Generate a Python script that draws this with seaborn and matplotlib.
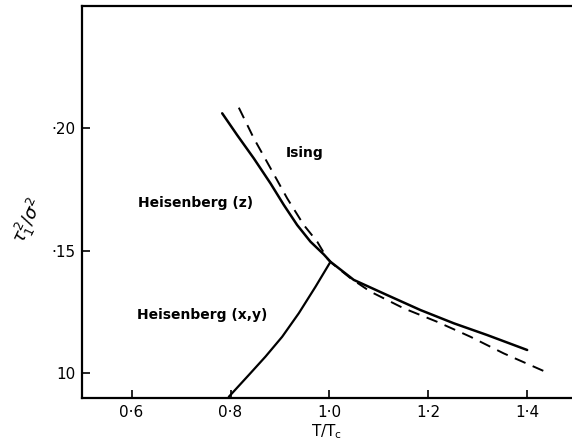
import matplotlib
matplotlib.use("Agg")
import matplotlib.pyplot as plt
import seaborn as sns
import pandas as pd

# Data
hz_x = [0.7832, 0.8135, 0.8471, 0.8808, 0.9077, 0.9347, 0.9616, 0.9885, 1.002,
        1.0491, 1.1166, 1.1838, 1.2511, 1.3186, 1.3994]
hz_y = [0.2060, 0.1971, 0.1876, 0.1774, 0.1686, 0.1604, 0.1536, 0.1484, 0.1454,
        0.1380, 0.1318, 0.1257, 0.1203, 0.1155, 0.1094]

ising_x = [0.8168, 0.8471, 0.8808, 0.9145, 0.9481, 0.9752, 0.9954, 1.002,
           1.0424, 1.0828, 1.1501, 1.2176, 1.2848, 1.3521, 1.4364]
ising_y = [0.2083, 0.1958, 0.1836, 0.1713, 0.1604, 0.1536, 0.1468, 0.1453,
           0.1387, 0.1332, 0.1264, 0.1209, 0.1148, 0.1080, 0.1005]

hxy_x = [1.002, 0.9717, 0.938, 0.9044, 0.8707, 0.837, 0.7966]
hxy_y = [0.1454, 0.1352, 0.1244, 0.1148, 0.1067, 0.0992, 0.0903]

xticks = [0.6, 0.8, 1.0, 1.2, 1.4]
xtick_labels = ["0·6", "0·8", "1·0", "1·2", "1·4"]
yticks = [0.10, 0.15, 0.20]
ytick_labels = ["10", "·15", "·20"]

sns.set_style("ticks")
plt.rcParams["font.family"] = ["DejaVu Sans"]
plt.rcParams["text.color"] = "black"
plt.rcParams["axes.labelcolor"] = "black"

fig = plt.figure(figsize=(5.72, 4.47), dpi=100)
ax = fig.add_axes([0.1434, 0.1096, 0.8566, 0.877])

df_hz = pd.DataFrame({"x": hz_x, "y": hz_y})
df_is = pd.DataFrame({"x": ising_x, "y": ising_y})
df_hxy = pd.DataFrame({"x": hxy_x, "y": hxy_y})

sns.lineplot(data=df_hz, x="x", y="y", ax=ax, color="black", lw=1.8, sort=False)
sns.lineplot(data=df_is, x="x", y="y", ax=ax, color="black", lw=1.4, sort=False,
             linestyle=(0, (6, 4)))
sns.lineplot(data=df_hxy, x="x", y="y", ax=ax, color="black", lw=1.6, sort=False)

ax.set_xlim(0.5, 1.49)
ax.set_ylim(0.0898, 0.2498)
ax.set_xticks(xticks)
ax.set_xticklabels(xtick_labels)
ax.set_yticks(yticks)
ax.set_yticklabels(ytick_labels)
ax.tick_params(direction="in", length=6, width=1.2, labelsize=11, colors="black",
               pad=5)
for s in ["left", "bottom", "top"]:
    ax.spines[s].set_linewidth(1.6)
    ax.spines[s].set_color("black")
ax.spines["right"].set_visible(False)

ax.set_xlabel(r"T/T$_\mathregular{c}$", fontsize=11, labelpad=2, color="black")
ax.set_ylabel("")
fig.text(0.05, 0.505, r"$\tau_1^2/\sigma^2$", rotation=65, fontsize=13,
         ha="center", va="center", color="black")

ax.text(0.911, 0.190, "Ising", fontsize=10, fontweight="bold", va="center", color="black")
ax.text(0.614, 0.1694, "Heisenberg (z)", fontsize=10, fontweight="bold", va="center", color="black")
ax.text(0.612, 0.1237, "Heisenberg (x,y)", fontsize=10, fontweight="bold", va="center", color="black")

fig.savefig("out.png", dpi=100)
